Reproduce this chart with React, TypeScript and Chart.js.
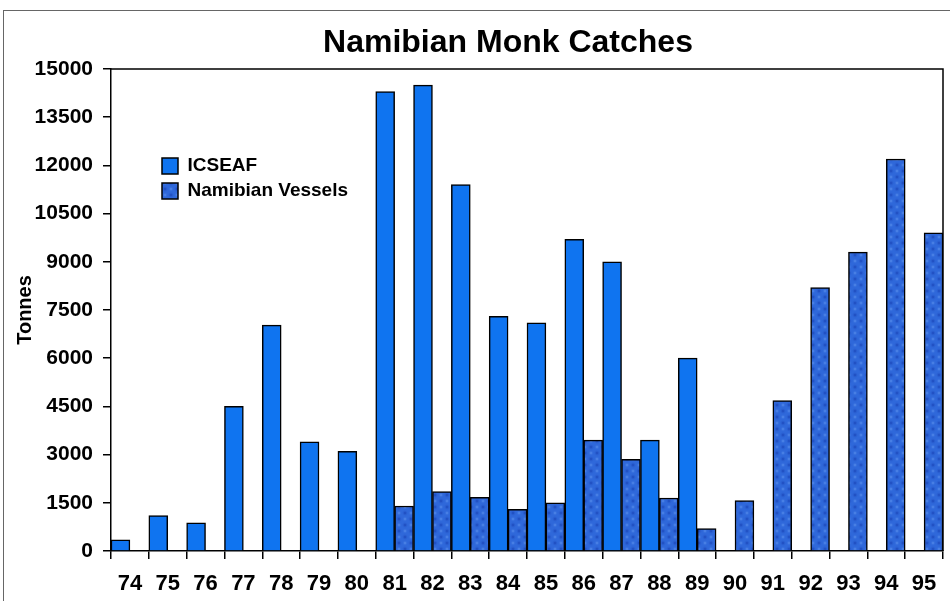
import React, { useEffect, useRef } from 'react';
import { Chart, registerables } from 'chart.js';

Chart.register(...registerables);

const CATEGORIES = ['74', '75', '76', '77', '78', '79', '80', '81', '82', '83', '84', '85', '86', '87', '88', '89', '90', '91', '92', '93', '94', '95'];
const ICSEAF = [350, 1100, 880, 4500, 7030, 3400, 3100, 14300, 14500, 11400, 7300, 7100, 9700, 9000, 3450, 6000, null, null, null, null, null, null];
const NAMIBIAN_VESSELS = [null, null, null, null, null, null, null, 1400, 1850, 1670, 1300, 1500, 3450, 2850, 1650, 700, 1570, 4680, 8200, 9300, 12200, 9900];
const SERIES_NAMES = ['ICSEAF', 'Namibian Vessels'];
const Y_MIN = 0;
const Y_MAX = 15000;
const Y_STEP = 1500;
const TITLE = 'Namibian Monk Catches';
const Y_TITLE = 'Tonnes';

const FONT = "'Liberation Sans', Arial, Helvetica, sans-serif";

function makePattern(ctx: CanvasRenderingContext2D) {
  const c = document.createElement('canvas');
  c.width = 12;
  c.height = 12;
  const p = c.getContext('2d')!;
  p.fillStyle = '#2f68da';
  p.fillRect(0, 0, 12, 12);
  const blob = (x: number, y: number, r: number, inner: string, outer: string) => {
    const g = p.createRadialGradient(x, y, 0, x, y, r);
    g.addColorStop(0, inner);
    g.addColorStop(1, outer);
    p.fillStyle = g;
    p.beginPath();
    p.arc(x, y, r, 0, Math.PI * 2);
    p.fill();
  };
  blob(3, 3, 3.5, '#1a45b8', 'rgba(47,104,218,0)');
  blob(9, 9, 3.5, '#1a45b8', 'rgba(47,104,218,0)');
  blob(9, 3, 2.8, '#5a90ec', 'rgba(47,104,218,0)');
  blob(3, 9, 2.8, '#5a90ec', 'rgba(47,104,218,0)');
  return ctx.createPattern(c, 'repeat');
}

export default function App() {
  const ref = useRef<HTMLCanvasElement>(null);

  useEffect(() => {
    const canvas = ref.current!;
    const ctx = canvas.getContext('2d')!;
    const pattern = makePattern(ctx);

    const placeLegend = {
      id: 'placeLegend',
      afterLayout(chart: any) {
        const lg = chart.legend;
        if (lg) {
          lg.left = 156;
          lg.top = 150.5;
          lg.right = lg.left + lg.width;
          lg.bottom = lg.top + lg.height;
        }
      },
    };

    const frameAndTitle = {
      id: 'frameAndTitle',
      afterDraw(chart: any) {
        const c = chart.ctx;
        const a = chart.chartArea;
        c.save();
        c.strokeStyle = '#000';
        c.lineWidth = 1.5;
        c.beginPath();
        c.moveTo(a.left, a.top);
        c.lineTo(a.right, a.top);
        c.lineTo(a.right, a.bottom);
        c.stroke();
        c.fillStyle = '#000';
        c.font = `bold 32px ${FONT}`;
        c.textAlign = 'center';
        c.textBaseline = 'alphabetic';
        c.fillText(TITLE, 508, 52);
        c.restore();
      },
    };

    const chart = new Chart(canvas, {
      type: 'bar',
      data: {
        labels: CATEGORIES,
        datasets: [
          {
            label: SERIES_NAMES[0],
            data: ICSEAF,
            backgroundColor: '#0f74f0',
            borderColor: '#000',
            borderWidth: 1.5,
            barPercentage: 1,
            categoryPercentage: 1,
          },
          {
            label: SERIES_NAMES[1],
            data: NAMIBIAN_VESSELS,
            backgroundColor: pattern as any,
            borderColor: '#000',
            borderWidth: 1.5,
            barPercentage: 1,
            categoryPercentage: 1,
          },
        ],
      },
      options: {
        responsive: false,
        animation: false,
        layout: { padding: { top: 69, right: 7, bottom: 0, left: 0 } },
        plugins: {
          title: { display: false },
          tooltip: { enabled: false },
          legend: {
            position: 'chartArea' as any,
            align: 'start',
            labels: {
              boxWidth: 16,
              boxHeight: 16,
              padding: 6,
              color: '#000',
              font: { family: FONT, size: 19, weight: 'bold' },
            },
          },
        },
        scales: {
          x: {
            grid: {
              display: true,
              drawOnChartArea: false,
              drawTicks: true,
              tickLength: 8,
              color: '#000',
              lineWidth: 1.5,
              offset: true,
            },
            border: { display: true, color: '#000', width: 1.5 },
            ticks: {
              color: '#000',
              padding: 12,
              maxRotation: 0,
              autoSkip: false,
              font: { family: FONT, size: 22, weight: 'bold' },
            },
            afterFit: (s: any) => {
              s.height = 50;
            },
          },
          y: {
            min: Y_MIN,
            max: Y_MAX,
            grid: {
              display: true,
              drawOnChartArea: false,
              drawTicks: true,
              tickLength: 8,
              color: '#000',
              lineWidth: 1.5,
            },
            border: { display: true, color: '#000', width: 1.5 },
            ticks: {
              stepSize: Y_STEP,
              color: '#000',
              padding: 10,
              font: { family: FONT, size: 21, weight: 'bold' },
              callback: (v: any) => String(v),
            },
            title: {
              display: true,
              text: Y_TITLE,
              color: '#000',
              font: { family: FONT, size: 20, weight: 'bold' },
              padding: { top: 13, bottom: 0 },
            },
            afterFit: (s: any) => {
              s.width = 111;
            },
          },
        },
      },
      plugins: [placeLegend, frameAndTitle],
    });

    return () => chart.destroy();
  }, []);

  return (
    <div style={{ position: 'absolute', left: 0, top: 0, width: 950, height: 601, background: '#fff', overflow: 'hidden' }}>
      <canvas ref={ref} width={950} height={601} style={{ display: 'block' }} />
      <div
        style={{
          position: 'absolute',
          left: 3,
          top: 10,
          width: 960,
          height: 600,
          borderLeft: '1.5px solid #666',
          borderTop: '1.5px solid #666',
          pointerEvents: 'none',
        }}
      />
    </div>
  );
}
